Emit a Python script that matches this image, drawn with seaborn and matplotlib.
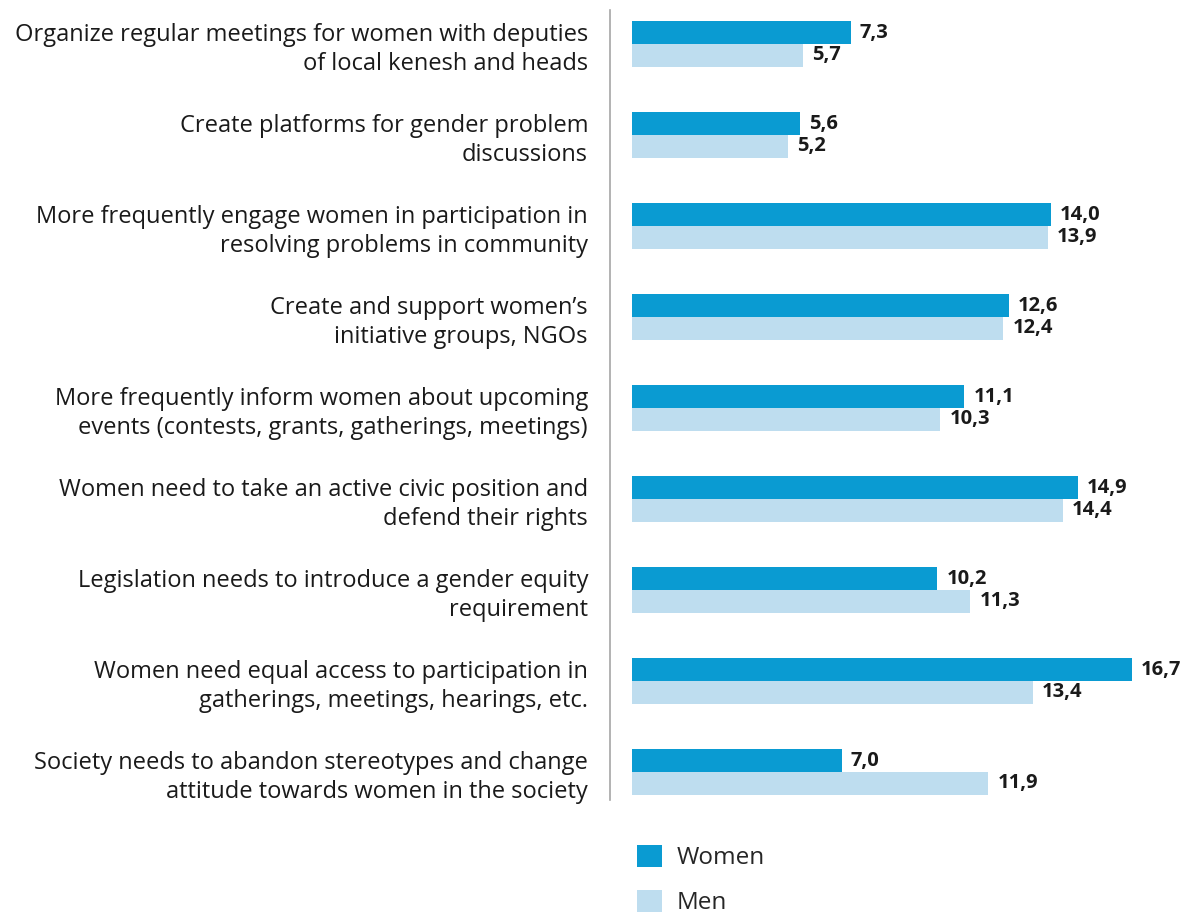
import numpy as np
import pandas as pd
import matplotlib
matplotlib.use("Agg")
import matplotlib.pyplot as plt
import seaborn as sns

categories = [
    "Organize regular meetings for women with deputies\nof local kenesh and heads",
    "Create platforms for gender problem\ndiscussions",
    "More frequently engage women in participation in\nresolving problems in community",
    "Create and support women\u2019s\ninitiative groups, NGOs",
    "More frequently inform women about upcoming\nevents (contests, grants, gatherings, meetings)",
    "Women need to take an active civic position and\ndefend their rights",
    "Legislation needs to introduce a gender equity\nrequirement",
    "Women need equal access to participation in\ngatherings, meetings, hearings, etc.",
    "Society needs to abandon stereotypes and change\nattitude towards women in the society",
]
women = [7.3, 5.6, 14.0, 12.6, 11.1, 14.9, 10.2, 16.7, 7.0]
men = [5.7, 5.2, 13.9, 12.4, 10.3, 14.4, 11.3, 13.4, 11.9]
series = ["Women", "Men"]
colors = ["#0A9BD2", "#BEDDEF"]

df = pd.DataFrame({
    "category": categories * 2,
    "value": women + men,
    "sex": [series[0]] * len(categories) + [series[1]] * len(categories),
})

sns.set_theme(style="white")
plt.rcParams["font.family"] = ["Open Sans", "DejaVu Sans"]

W, H = 1188, 917
PX = 0.72  # points per pixel at 100 dpi
fig = plt.figure(figsize=(W / 100, H / 100), dpi=100)
ax_left, ax_top, ax_bottom = 632, 10, 800
ax = fig.add_axes([ax_left / W, 1 - ax_bottom / H, (W - ax_left) / W, (ax_bottom - ax_top) / H])

sns.barplot(data=df, y="category", x="value", hue="sex", orient="h",
            palette=colors, width=0.5, dodge=True, gap=0, ax=ax,
            saturation=1, errorbar=None, linewidth=0)

ax.set_xlim(0, (W - ax_left) / 29.94)
ax.set_ylim(8 + 28 / 91, -34 / 91)

for cont in ax.containers:
    ax.bar_label(cont, labels=[f"{v:.1f}".replace(".", ",") for v in cont.datavalues],
                 padding=9 * PX, fontsize=14.5, fontweight="bold", color="#1a1a1a")

ax.set_xlabel("")
ax.set_ylabel("")
ax.set_xticks([])
for s in ["top", "right", "bottom"]:
    ax.spines[s].set_visible(False)
ax.spines["left"].set_position(("outward", 22 * PX))
ax.spines["left"].set_color("#a6a6a6")
ax.spines["left"].set_linewidth(1.2)
ax.tick_params(axis="y", length=0, pad=22 * PX, labelsize=17, colors="#1a1a1a")
for t in ax.get_yticklabels():
    t.set_horizontalalignment("right")
    t.set_linespacing(1.28)

handles, labels = ax.get_legend_handles_labels()
ax.legend_.remove()
fig.legend(handles, labels, loc="upper left", bbox_to_anchor=(627 / W, 1 - 835 / H),
           frameon=False, fontsize=17.5, handlelength=1.05, handleheight=1.05,
           handletextpad=0.6, labelspacing=0.8, borderaxespad=0)

fig.savefig("out.png", dpi=100)
